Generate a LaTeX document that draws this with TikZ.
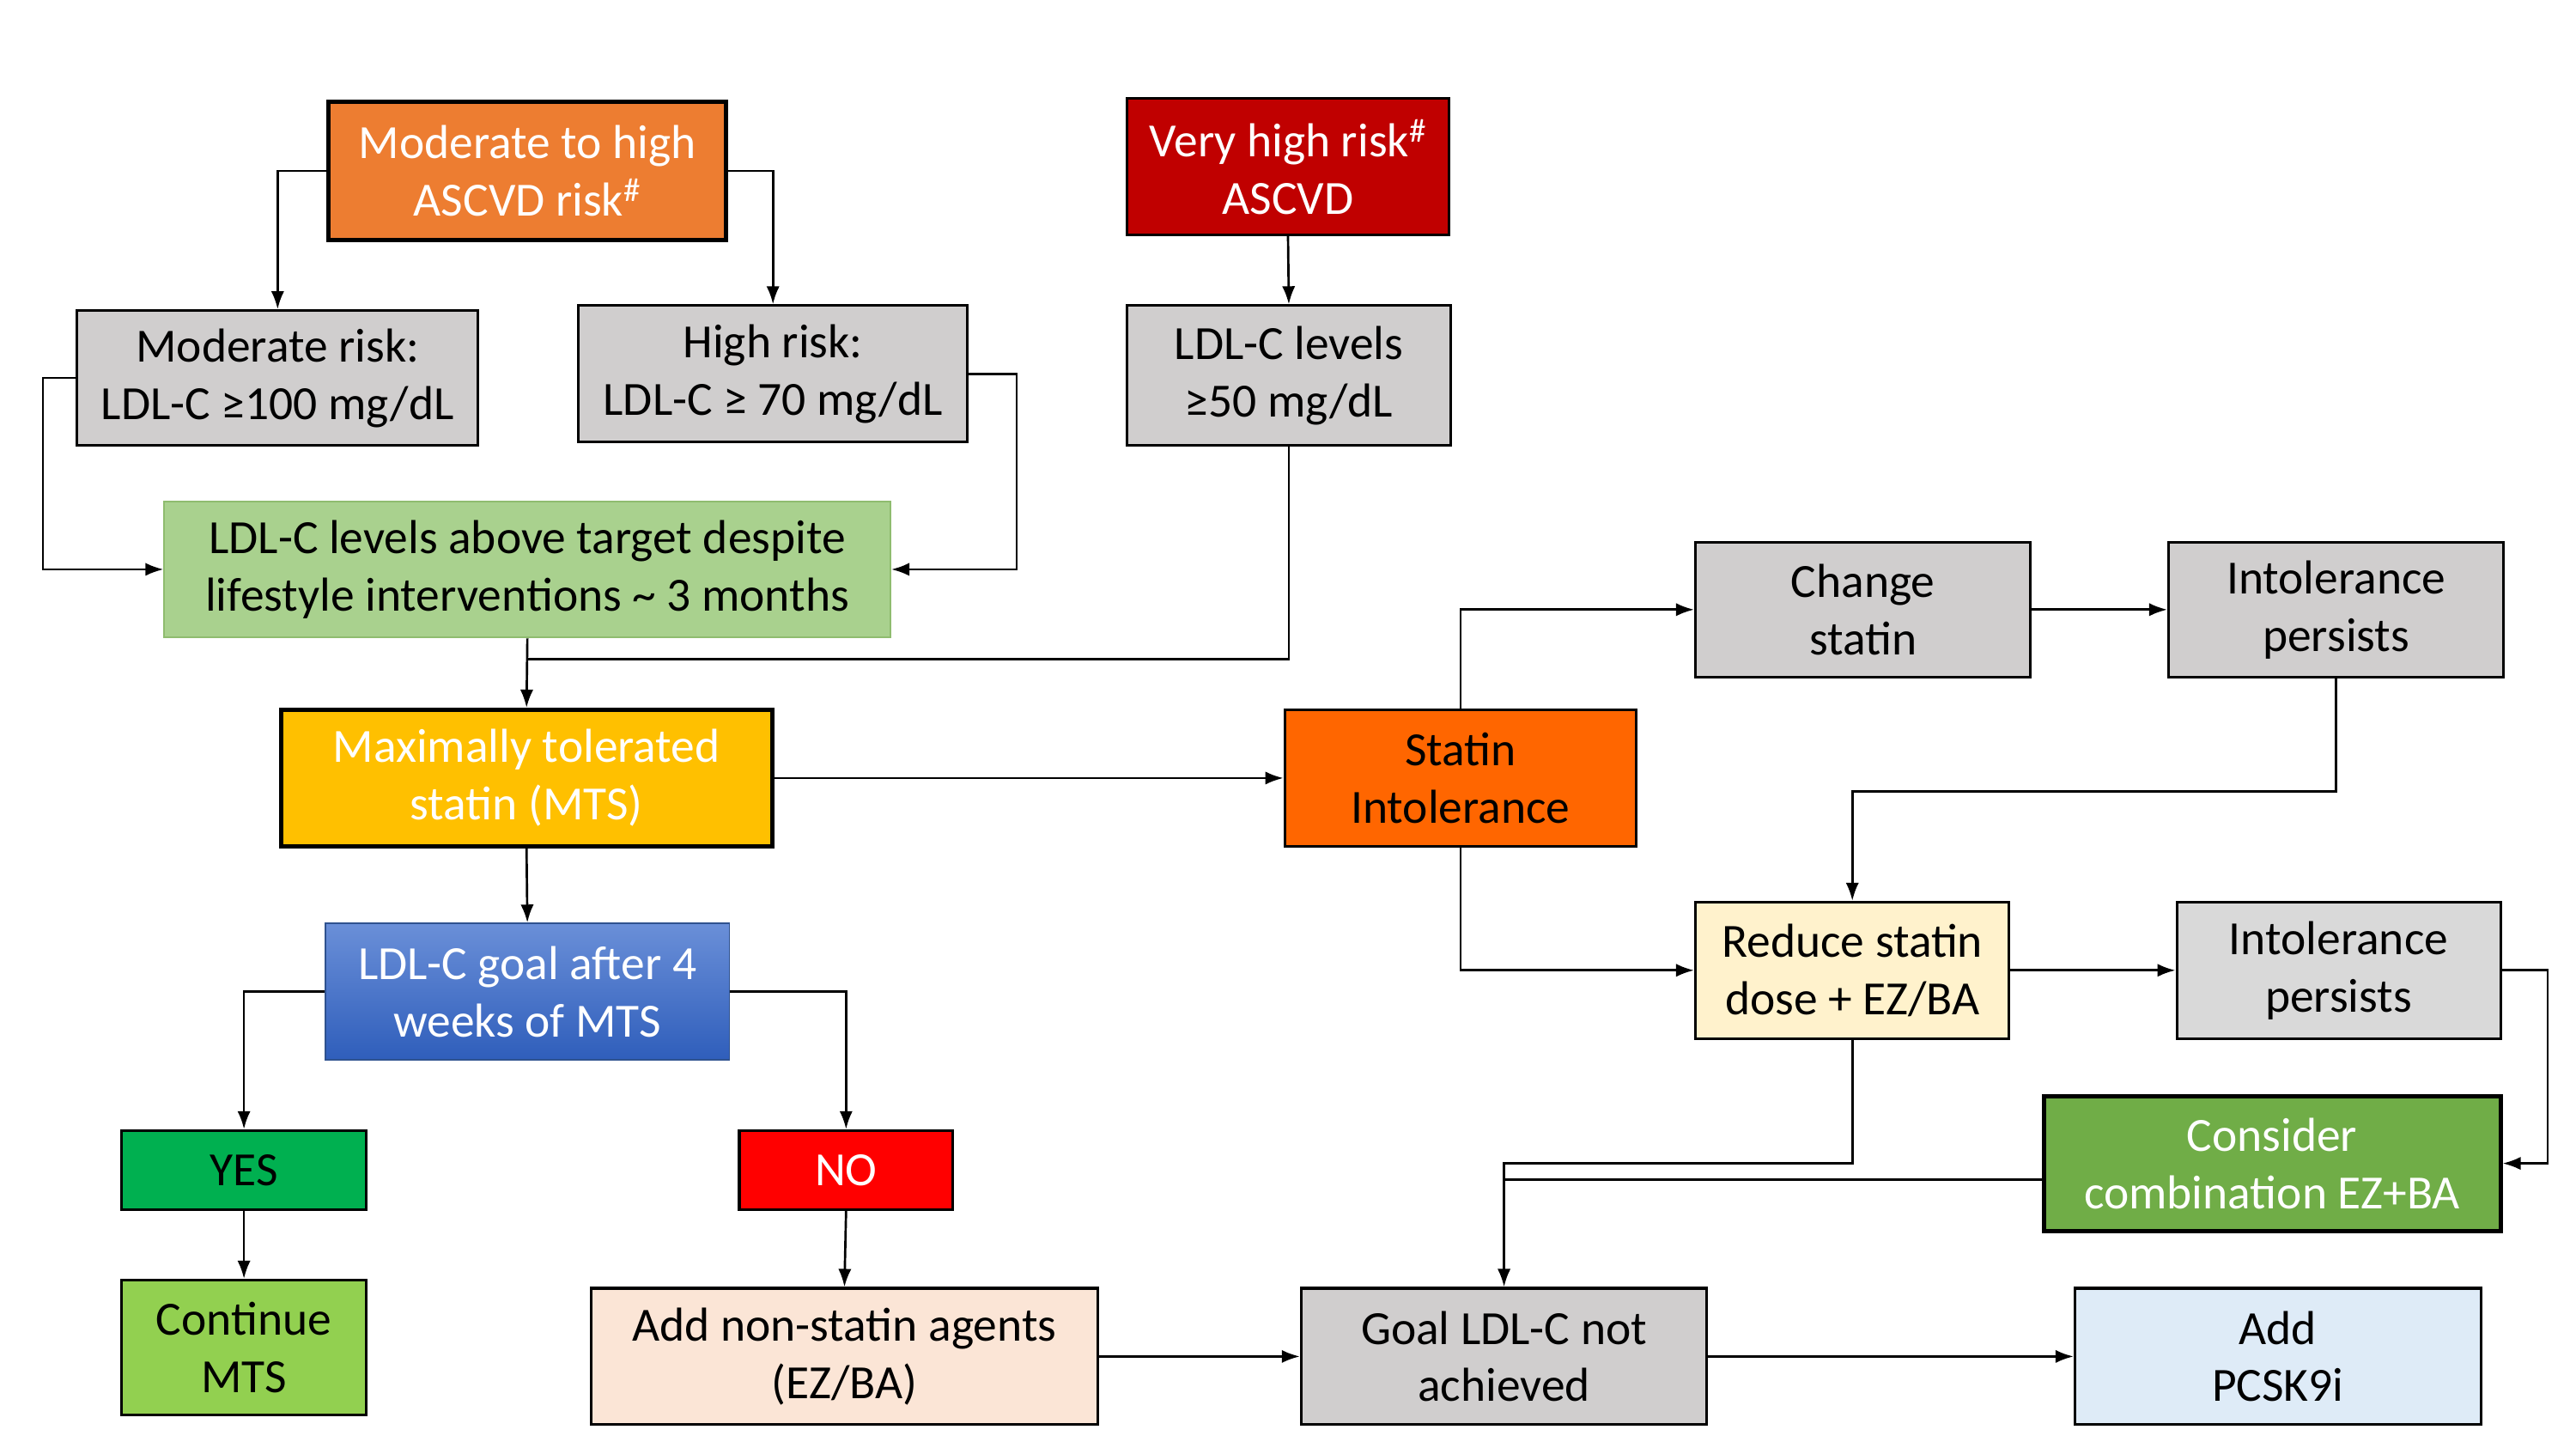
\documentclass[tikz,border=0pt]{standalone}
\usepackage{fontspec}
\setmainfont{Carlito}
\usetikzlibrary{arrows.meta}
\definecolor{cOrange}{HTML}{ED7D31}
\definecolor{cDarkRed}{HTML}{C00000}
\definecolor{cGrey}{HTML}{D0CECE}
\definecolor{cGreyL}{HTML}{D9D9D9}
\definecolor{cLGreen}{HTML}{A9D18E}
\definecolor{cLGreenB}{HTML}{8FBC6F}
\definecolor{cGold}{HTML}{FFC000}
\definecolor{cOrange2}{HTML}{FF6600}
\definecolor{cCream}{HTML}{FFF2CC}
\definecolor{cGreen}{HTML}{70AD47}
\definecolor{cBlueT}{HTML}{6A8FD8}
\definecolor{cBlueB}{HTML}{2F5EBB}
\definecolor{cBlueD}{HTML}{2F528F}
\definecolor{cYes}{HTML}{00B050}
\definecolor{cNo}{HTML}{FF0000}
\definecolor{cCont}{HTML}{92D050}
\definecolor{cPeach}{HTML}{FBE5D6}
\definecolor{cLBlue}{HTML}{DEEBF7}
\begin{document}
\begin{tikzpicture}[x=1pt,y=-1pt,
  box/.style={draw=black,line width=1.6pt,inner sep=0pt,align=center,font=\fontsize{29}{35}\selectfont},
  thickbox/.style={box,line width=2.6pt},
  conn/.style={line width=1.4pt},
  arr/.style={conn,-{Latex[length=11pt,width=8pt]}}]
\useasboundingbox (0,0) rectangle (1568,881);
% nodes
\node[thickbox,fill=cOrange,text=white,minimum width=242pt,minimum height=84pt] (A) at (321,104) {Moderate to high\\ASCVD risk\textsuperscript{\#}};
\node[box,fill=cDarkRed,text=white,minimum width=196pt,minimum height=83pt] (B) at (784,101.5) {Very high risk\textsuperscript{\#}\\ASCVD};
\node[box,fill=cGrey,minimum width=244pt,minimum height=82pt] (C) at (169,230) {Moderate risk:\\LDL-C ≥100 mg/dL};
\node[box,fill=cGrey,minimum width=237pt,minimum height=83pt] (D) at (470.5,227.5) {High risk:\\LDL-C ≥ 70 mg/dL};
\node[box,fill=cGrey,minimum width=197pt,minimum height=85pt] (E) at (784.5,228.5) {LDL-C levels\\≥50 mg/dL};
\node[box,draw=cLGreenB,line width=1pt,fill=cLGreen,minimum width=442pt,minimum height=83pt] (F) at (321,346.5) {LDL-C levels above target despite\\lifestyle interventions \textasciitilde{} 3 months};
\node[thickbox,fill=cGold,text=white,minimum width=299pt,minimum height=83pt] (G) at (320.5,473.5) {Maximally tolerated\\statin (MTS)};
\node[box,fill=cOrange2,minimum width=214pt,minimum height=83pt] (H) at (889,473.5) {Statin\\Intolerance};
\node[box,fill=cGrey,minimum width=204pt,minimum height=82pt] (I) at (1134,371) {Change\\statin};
\node[box,fill=cGrey,minimum width=204pt,minimum height=82pt] (J) at (1422,371) {Intolerance\\persists};
\node[box,fill=cCream,minimum width=191pt,minimum height=83pt] (K) at (1127.5,590.5) {Reduce statin\\dose + EZ/BA};
\node[box,fill=cGreyL,minimum width=197pt,minimum height=83pt] (L) at (1423.5,590.5) {Intolerance\\persists};
\node[thickbox,fill=cGreen,text=white,minimum width=278pt,minimum height=82pt] (M) at (1383,708) {Consider\\combination EZ+BA};
\node[box,draw=cBlueD,line width=1pt,top color=cBlueT,bottom color=cBlueB,text=white,minimum width=246pt,minimum height=83pt] (N) at (321,603.5) {LDL-C goal after 4\\weeks of MTS};
\node[box,fill=cYes,minimum width=149pt,minimum height=48pt] (O) at (148.5,712) {YES};
\node[box,fill=cNo,text=white,minimum width=130pt,minimum height=48pt] (P) at (515,712) {NO};
\node[box,fill=cCont,minimum width=149pt,minimum height=82pt] (Q) at (148.5,820) {Continue\\MTS};
\node[box,fill=cPeach,minimum width=308pt,minimum height=83pt] (R) at (514,825.5) {Add non-statin agents\\(EZ/BA)};
\node[box,fill=cGrey,minimum width=247pt,minimum height=83pt] (S) at (915.5,825.5) {Goal LDL-C not\\achieved};
\node[box,fill=cLBlue,minimum width=247pt,minimum height=83pt] (T) at (1386.5,825.5) {Add\\PCSK9i};
% junction coordinates
\coordinate (j1) at (320.5,401);
\coordinate (j2) at (915.5,708);
\coordinate (m1) at ([yshift=-10pt]M.west);
% connectors
\draw[arr] (A.west) -| (C.north);
\draw[arr] (A.east) -| (D.north);
\draw[arr] (B.south) -- (E.north);
\draw[arr] (C.west) -- ++(-20,0) |- (F.west);
\draw[arr] (D.east) -- ++(29,0) |- (F.east);
\draw[conn] (E.south) |- (j1);
\draw[arr] (F.south) -- (G.north);
\draw[arr] (G.east) -- (H.west);
\draw[arr] (G.south) -- (N.north);
\draw[arr] (N.west) -| (O.north);
\draw[arr] (N.east) -| (P.north);
\draw[arr] (O.south) -- (Q.north);
\draw[arr] (P.south) -- (R.north);
\draw[arr] (R.east) -- (S.west);
\draw[arr] (S.east) -- (T.west);
\draw[arr] (H.north) |- (I.west);
\draw[arr] (I.east) -- (J.west);
\draw[arr] (J.south) -- ++(0,69) -| (K.north);
\draw[arr] (H.south) |- (K.west);
\draw[arr] (K.east) -- (L.west);
\draw[arr] (L.east) -- ++(28,0) |- (M.east);
\draw[arr] (K.south) |- (j2) -- (S.north);
\draw[conn] (m1) -- (m1 -| S.north);
\end{tikzpicture}
\end{document}
